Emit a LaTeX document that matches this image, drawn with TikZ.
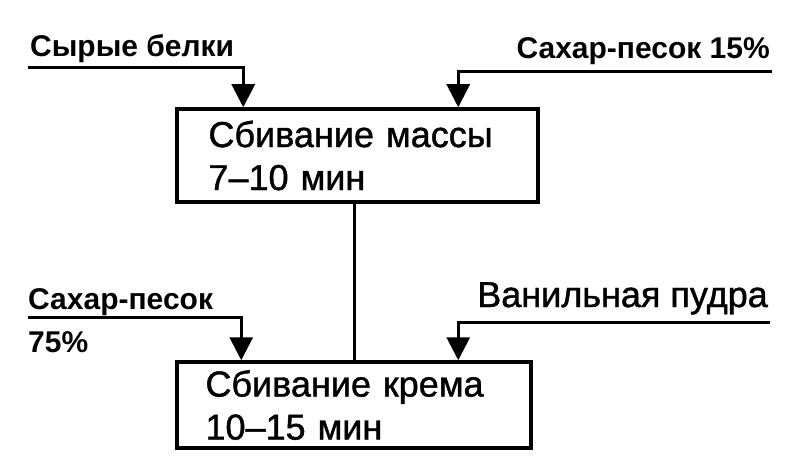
\documentclass[tikz,border=0pt]{standalone}
\usepackage{fontspec}
\setmainfont{Liberation Sans}
\newfontfamily\heavyfont[FakeBold=1.2]{Liberation Sans}
\usetikzlibrary{arrows.meta}
\begin{document}
\begin{tikzpicture}[x=1pt,y=-1pt,
  procbox/.style={draw, line width=3.5pt, inner sep=0pt, align=left,
    font=\heavyfont\fontsize{36}{43}\selectfont},
  conn/.style={line width=3pt},
  arr/.style={conn, -{Triangle[width=23pt,length=23pt]}},
  lbl/.style={inner sep=0pt, font=\bfseries\fontsize{30}{36}\selectfont},
  lblr/.style={inner sep=0pt, font=\heavyfont\fontsize{36}{43}\selectfont}]
\useasboundingbox[fill=white] (0,0) rectangle (805,473);
% boxes
\node[procbox, minimum width=361pt, minimum height=93pt, text width=298pt]
  (b1) at (357.5,155.5) {Сбивание массы\\7–10 мин};
\node[procbox, minimum width=354pt, minimum height=86pt, text width=297pt]
  (b2) at (354,405) {Сбивание крема\\10–15 мин};
% labels
\node[lbl, anchor=base west] (l1) at (30,57) {Сырые белки};
\node[lbl, anchor=base east] (l2) at (770,59) {Сахар-песок 15\%};
\node[lbl, anchor=base west] (l3) at (28,309) {Сахар-песок};
\node[lbl, anchor=base west] (l3b) at (28,352) {75\%};
\node[lblr, anchor=base east] (l4) at (768,307) {Ванильная пудра};
% connector start points
\coordinate (s1) at (28,68);
\coordinate (s2) at (772,72);
\coordinate (s3) at (28,317);
\coordinate (s4) at (770,322);
% connectors
\draw[arr] (s1) -| ([xshift=68pt]b1.north west);
\draw[arr] (s2) -| ([xshift=283pt]b1.north west);
\draw[conn] (b1.south -| b1.center) ++(-3pt,0) coordinate (m1) -- (m1 |- b2.north);
\draw[arr] (s3) -| ([xshift=66pt]b2.north west);
\draw[arr] (s4) -| ([xshift=283pt]b2.north west);
\end{tikzpicture}
\end{document}
